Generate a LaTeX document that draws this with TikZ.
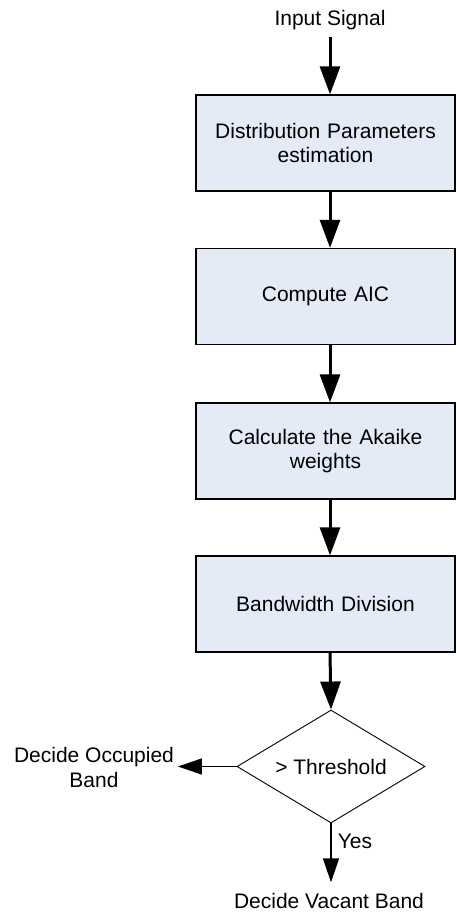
\documentclass[tikz,border=0pt]{standalone}
\usepackage{fontspec}
\setmainfont{Liberation Sans}
\usetikzlibrary{arrows.meta,shapes.geometric}
\definecolor{boxfill}{RGB}{228,234,246}
\begin{document}
\begin{tikzpicture}[x=1pt,y=-1pt,
  every node/.style={font=\fontsize{21}{23.5}\selectfont, inner sep=0pt, align=center},
  stepbox/.style={draw, line width=1.3pt, fill=boxfill, minimum width=259pt,
    minimum height=96pt, text width=245pt},
  decision/.style={draw, line width=0.9pt, diamond, aspect=1.65,
    minimum width=188pt, minimum height=113pt},
  bigflow/.style={line width=3pt, -{Triangle[length=28pt,width=20pt]}},
  smallflow/.style={line width=1.6pt, -{Triangle[length=24pt,width=16pt]}}
]
\useasboundingbox (0,0) rectangle (457,913);

% vertical axis of the flow arrows
\coordinate (axis) at (330,0);

\node[outer sep=7pt] (input) at (330,20) {Input Signal};
\node[stepbox] (dist) at (325.5,143) {Distribution Parameters\\estimation};
\node[stepbox] (aic) at (325.5,296.5) {Compute AIC};
\node[stepbox] (akaike) at (325.5,451) {Calculate the Akaike\\weights};
\node[stepbox] (bw) at (325.5,604) {Bandwidth Division};
\node[decision] (thr) at (331,766.5) {> Threshold};
\node[outer sep=4pt, font=\fontsize{21}{25}\selectfont] (occ) at (94,767) {Decide Occupied\\Band};
\node[outer sep=11pt] (vac) at (329,901) {Decide Vacant Band};

% flow between the steps
\draw[bigflow] (input.south) -- (dist.north -| input.south);
\draw[bigflow] (dist.south -| axis) -- (aic.north -| axis);
\draw[bigflow] (aic.south -| axis) -- (akaike.north -| axis);
\draw[bigflow] (akaike.south -| axis) -- (bw.north -| axis);
\draw[bigflow] (bw.south -| axis) -- (thr.north);

% decision outcomes
\draw[smallflow] (thr.west) -- (thr.west -| occ.east);
\draw[smallflow] (thr.south) -- (vac.north -| thr.south)
  node[pos=0.3, right=6pt] (yes) {Yes};
\end{tikzpicture}
\end{document}
